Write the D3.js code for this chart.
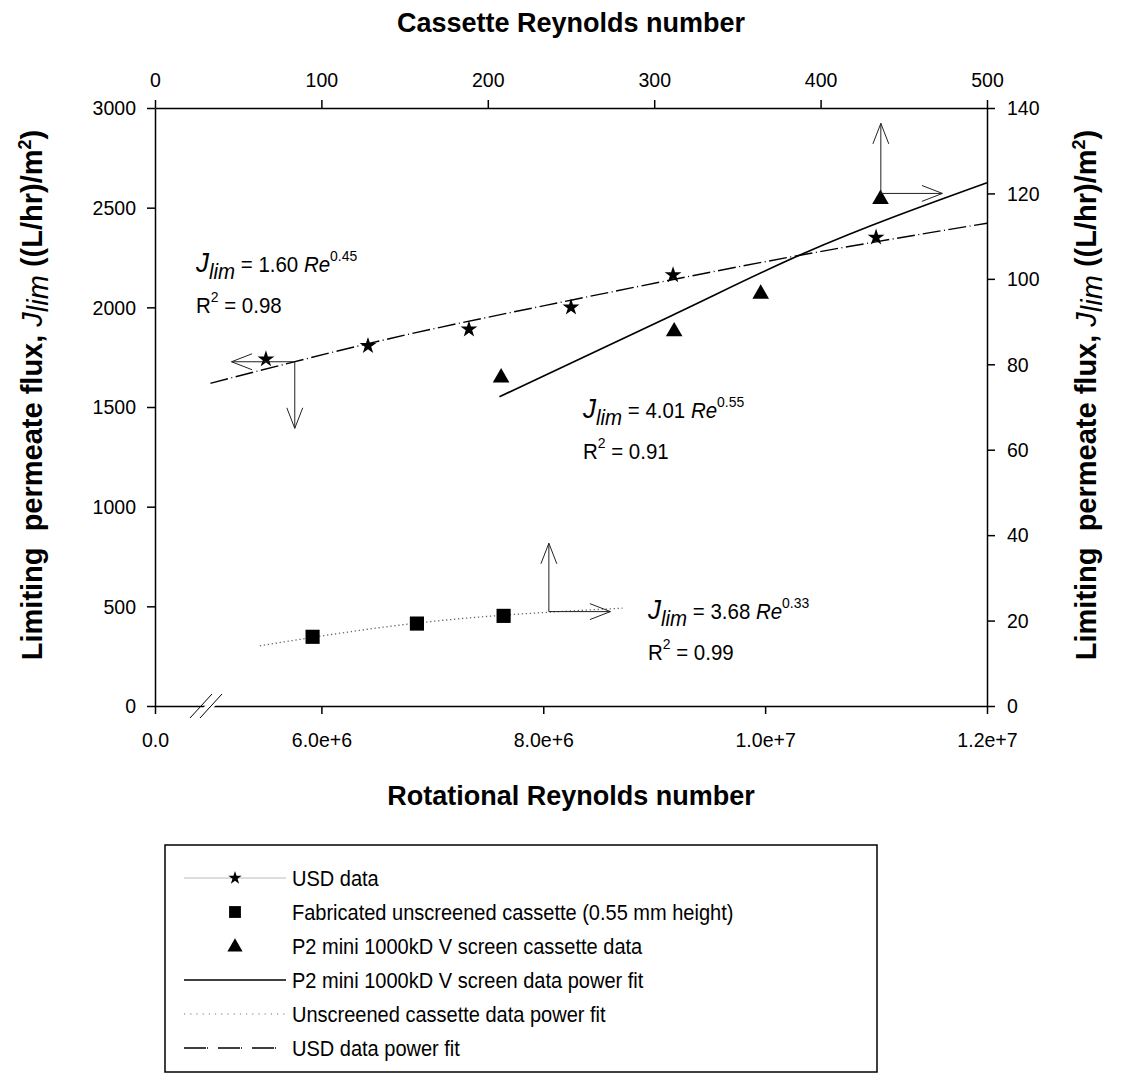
<!DOCTYPE html>
<html>
<head>
<meta charset="utf-8">
<script src="https://cdn.jsdelivr.net/npm/d3@7"></script>
<style>
  body { margin: 0; background: #fff; }
  text { font-family: "Liberation Sans", Arial, sans-serif; fill: #000; }
</style>
</head>
<body>
<svg id="chart" width="1122" height="1077"></svg>
<script>
// ---- data ----
// USD data: rotational Reynolds number vs limiting flux (left axis)
const usdRe   = [5.50e6, 6.42e6, 7.33e6, 8.25e6, 9.17e6, 1.10e7];
const usdFlux = [1740, 1807, 1890, 2000, 2162, 2351];
// USD power fit (J = 1.60 Re^0.45), traced points
const usdFitRe   = [5.0e6, 6.63e6, 8.26e6, 1.035e7, 1.2e7];
const usdFitFlux = [1619, 1845, 2037, 2265, 2422];

// Fabricated unscreened cassette: cassette Reynolds number vs flux (right axis)
const fabRe   = [94.7, 157.4, 209.5];
const fabFlux = [16.2, 19.3, 21.1];
const fabFitRe   = [63, 157, 281];
const fabFitFlux = [14.1, 19.4, 22.9];

// P2 mini 1000kD V screen cassette (right axis)
const p2Re   = [208, 312, 364, 436];
const p2Flux = [77.1, 87.9, 96.7, 118.9];
const p2FitRe   = [207, 311, 390, 500];
const p2FitFlux = [72.4, 91.5, 106, 122.5];

// axis ticks
const rotTicks   = [6e6, 8e6, 1e7, 1.2e7];
const rotBreakLabel = "0.0";
const casTicks   = [0, 100, 200, 300, 400, 500];
const leftTicks  = [0, 500, 1000, 1500, 2000, 2500, 3000];
const rightTicks = [0, 20, 40, 60, 80, 100, 120, 140];

const legendLabels = [
  "USD data",
  "Fabricated unscreened cassette (0.55 mm height)",
  "P2 mini 1000kD V screen cassette data",
  "P2 mini 1000kD V screen data power fit",
  "Unscreened cassette data power fit",
  "USD data power fit"
];

// ---- layout ----
const L = 155, R = 987, T = 108, B = 706;
const svg = d3.select("#chart");

const xRot = d3.scaleLinear().domain([4.5e6, 1.2e7]).range([L, R]);
const xCas = d3.scaleLinear().domain([0, 500]).range([L, R]);
const yL = d3.scaleLinear().domain([0, 3000]).range([B, T]);
const yR = d3.scaleLinear().domain([0, 140]).range([B, T]);

const TICK_FONT = 21;
const TICK_SX = 0.93;     // slightly narrow set for regular-weight labels
const LEGEND_SX = 0.91;
const EQ_SX = 0.93;

// horizontally condense a text selection while keeping its anchor position
function condense(sel, sx) {
  sel.each(function () {
    const t = d3.select(this);
    const x = +t.attr("x") || 0;
    t.attr("x", x / sx).attr("transform", `scale(${sx},1)`);
  });
}

function styleAxis(g) {
  g.selectAll("path.domain").attr("stroke", "#000").attr("stroke-width", 1.5);
  g.selectAll(".tick line").attr("stroke", "#000").attr("stroke-width", 1.5);
  g.selectAll(".tick text").attr("font-size", TICK_FONT)
    .attr("font-family", '"Liberation Sans", Arial, sans-serif')
    .call(condense, TICK_SX);
}

// bottom axis (rotational Reynolds number, with axis break)
const bottomAxis = d3.axisBottom(xRot)
  .tickValues([xRot.domain()[0], ...rotTicks])
  .tickSize(8).tickSizeOuter(0).tickPadding(18)
  .tickFormat(d => d === xRot.domain()[0] ? rotBreakLabel : d3.format(".1e")(d));
svg.append("g").attr("transform", `translate(0,${B})`).call(bottomAxis).call(styleAxis);

// top axis (cassette Reynolds number)
svg.append("g").attr("transform", `translate(0,${T})`)
  .call(d3.axisTop(xCas).tickValues(casTicks).tickSize(8).tickSizeOuter(0).tickPadding(13)
    .tickFormat(d3.format("d")))
  .call(styleAxis);

// left axis
svg.append("g").attr("transform", `translate(${L},0)`)
  .call(d3.axisLeft(yL).tickValues(leftTicks).tickSize(8).tickSizeOuter(0).tickPadding(11)
    .tickFormat(d3.format("d")))
  .call(styleAxis);

// right axis
svg.append("g").attr("transform", `translate(${R},0)`)
  .call(d3.axisRight(yR).tickValues(rightTicks).tickSize(8).tickSizeOuter(0).tickPadding(12)
    .tickFormat(d3.format("d")))
  .call(styleAxis);

// axis break marks on the bottom axis
const brk = svg.append("g");
brk.append("polygon")
  .attr("points", "194,718 216,694 226,694 204,718")
  .attr("fill", "#fff");
[[190, 718, 212, 694], [200, 718, 222, 694]].forEach(s =>
  brk.append("line").attr("x1", s[0]).attr("y1", s[1]).attr("x2", s[2]).attr("y2", s[3])
    .attr("stroke", "#000").attr("stroke-width", 1));

// axis titles
svg.append("text").attr("x", (L + R) / 2).attr("y", 32)
  .attr("text-anchor", "middle").attr("font-size", 27).attr("font-weight", "bold")
  .text("Cassette Reynolds number");
svg.append("text").attr("x", (L + R) / 2).attr("y", 805)
  .attr("text-anchor", "middle").attr("font-size", 27).attr("font-weight", "bold")
  .text("Rotational Reynolds number");

function fluxTitle(x, y) {
  const t = svg.append("text")
    .attr("transform", `translate(${x},${y}) rotate(-90)`)
    .attr("text-anchor", "middle").attr("font-size", 29).attr("font-weight", "bold")
    .style("white-space", "pre");
  t.append("tspan").text("Limiting  permeate flux, ");
  t.append("tspan").attr("font-style", "italic").attr("font-weight", "normal").text("J");
  t.append("tspan").attr("font-style", "italic").attr("font-weight", "normal").attr("dy", 6).text("lim");
  t.append("tspan").attr("dy", -6).text(" ((L/hr)/m");
  t.append("tspan").attr("font-size", 18).attr("dy", -11).text("2");
  t.append("tspan").attr("dy", 11).text(")");
}
fluxTitle(42, 395);
fluxTitle(1096, 395);

// ---- fit lines ----
const lineRot = d3.line().x(d => xRot(d[0])).y(d => yL(d[1])).curve(d3.curveMonotoneX);
const lineCas = d3.line().x(d => xCas(d[0])).y(d => yR(d[1])).curve(d3.curveMonotoneX);

svg.append("path").datum(d3.zip(usdFitRe, usdFitFlux)).attr("d", lineRot)
  .attr("fill", "none").attr("stroke", "#000").attr("stroke-width", 1.4)
  .attr("stroke-dasharray", "18,3.5,1,3.5");
svg.append("path").datum(d3.zip(p2FitRe, p2FitFlux)).attr("d", lineCas)
  .attr("fill", "none").attr("stroke", "#000").attr("stroke-width", 1.7);
svg.append("path").datum(d3.zip(fabFitRe, fabFitFlux)).attr("d", lineCas)
  .attr("fill", "none").attr("stroke", "#666").attr("stroke-width", 1.3)
  .attr("stroke-dasharray", "1.3,2.7");

// ---- markers ----
const star = d3.symbol().type(d3.symbolStar).size(88);
const square = d3.symbol().type(d3.symbolSquare).size(200);
const tri = d3.symbol().type(d3.symbolTriangle).size(120);

svg.append("g").selectAll("path").data(d3.zip(usdRe, usdFlux)).join("path")
  .attr("transform", d => `translate(${xRot(d[0])},${yL(d[1])})`).attr("d", star).attr("fill", "#000");
svg.append("g").selectAll("path").data(d3.zip(fabRe, fabFlux)).join("path")
  .attr("transform", d => `translate(${xCas(d[0])},${yR(d[1])})`).attr("d", square).attr("fill", "#000");
svg.append("g").selectAll("path").data(d3.zip(p2Re, p2Flux)).join("path")
  .attr("transform", d => `translate(${xCas(d[0])},${yR(d[1]) + 1})`).attr("d", tri).attr("fill", "#000");

// ---- axis-pointer arrows ----
function arrow(x1, y1, x2, y2) {
  const g = svg.append("g").attr("stroke", "#222").attr("stroke-width", 1).attr("fill", "none");
  g.append("line").attr("x1", x1).attr("y1", y1).attr("x2", x2).attr("y2", y2);
  const a = Math.atan2(y2 - y1, x2 - x1), len = 22, w = 0.37;
  [a + Math.PI - w, a + Math.PI + w].forEach(b =>
    g.append("line").attr("x1", x2).attr("y1", y2)
      .attr("x2", x2 + len * Math.cos(b)).attr("y2", y2 + len * Math.sin(b)));
}
// USD -> left and bottom axes
arrow(xRot(5.76e6), yL(1727), xRot(5.19e6), yL(1727));
arrow(xRot(5.76e6), yL(1727), xRot(5.76e6), yL(1393));
// unscreened cassette -> top and right axes
arrow(xCas(236.7), yR(22.1), xCas(236.7), yR(38.1));
arrow(xCas(236.7), yR(22.1), xCas(273.7), yR(22.1));
// P2 cassette -> top and right axes
arrow(xCas(436.2), yR(120.0), xCas(436.2), yR(136.4));
arrow(xCas(436.2), yR(120.0), xCas(473.2), yR(120.0));

// ---- fit equations ----
function equation(x, y, coef, expo, r2) {
  const t = svg.append("text").attr("x", x).attr("y", y).attr("font-size", 22).style("white-space", "pre");
  t.append("tspan").attr("font-style", "italic").attr("font-size", 28).text("J");
  t.append("tspan").attr("font-style", "italic").attr("dy", 7).text("lim");
  t.append("tspan").attr("dy", -7).text(` = ${coef} `);
  t.append("tspan").attr("font-style", "italic").text("Re");
  t.append("tspan").attr("font-size", 15).attr("dy", -11).text(expo);
  const r = svg.append("text").attr("x", x).attr("y", y + 41).attr("font-size", 22).style("white-space", "pre");
  r.append("tspan").text("R");
  r.append("tspan").attr("font-size", 15).attr("dy", -11).text("2");
  r.append("tspan").attr("dy", 11).text(` = ${r2}`);
  condense(t, EQ_SX);
  condense(r, EQ_SX);
}
equation(196, 272, "1.60", "0.45", "0.98");
equation(583, 418, "4.01", "0.55", "0.91");
equation(648, 619, "3.68", "0.33", "0.99");

// ---- legend ----
const lg = svg.append("g");
lg.append("rect").attr("x", 165).attr("y", 845).attr("width", 712).attr("height", 227)
  .attr("fill", "#fff").attr("stroke", "#000").attr("stroke-width", 1.5);
const rowY = i => 878 + i * 34;
const sx0 = 184, sx1 = 286, sxm = 235, tx = 292;
// row 0: thin grey line with star
lg.append("line").attr("x1", sx0).attr("x2", sx1).attr("y1", rowY(0)).attr("y2", rowY(0))
  .attr("stroke", "#aaa").attr("stroke-width", 0.8);
lg.append("path").attr("transform", `translate(${sxm},${rowY(0)})`).attr("d", d3.symbol().type(d3.symbolStar).size(55)).attr("fill", "#000");
lg.append("path").attr("transform", `translate(${sxm},${rowY(1)})`).attr("d", d3.symbol().type(d3.symbolSquare).size(140)).attr("fill", "#000");
lg.append("path").attr("transform", `translate(${sxm},${rowY(2) + 1})`).attr("d", d3.symbol().type(d3.symbolTriangle).size(100)).attr("fill", "#000");
lg.append("line").attr("x1", sx0).attr("x2", sx1).attr("y1", rowY(3)).attr("y2", rowY(3))
  .attr("stroke", "#000").attr("stroke-width", 1.7);
lg.append("line").attr("x1", sx0).attr("x2", sx1).attr("y1", rowY(4)).attr("y2", rowY(4))
  .attr("stroke", "#777").attr("stroke-width", 1.2).attr("stroke-dasharray", "1.2,5");
lg.append("line").attr("x1", sx0).attr("x2", sx1).attr("y1", rowY(5)).attr("y2", rowY(5))
  .attr("stroke", "#000").attr("stroke-width", 1.4).attr("stroke-dasharray", "22,1,1,10");
lg.selectAll("text.lab").data(legendLabels).join("text").attr("class", "lab")
  .attr("x", tx).attr("y", (d, i) => rowY(i)).attr("dy", "0.35em")
  .attr("font-size", 22).text(d => d)
  .call(condense, LEGEND_SX);
</script>
</body>
</html>
